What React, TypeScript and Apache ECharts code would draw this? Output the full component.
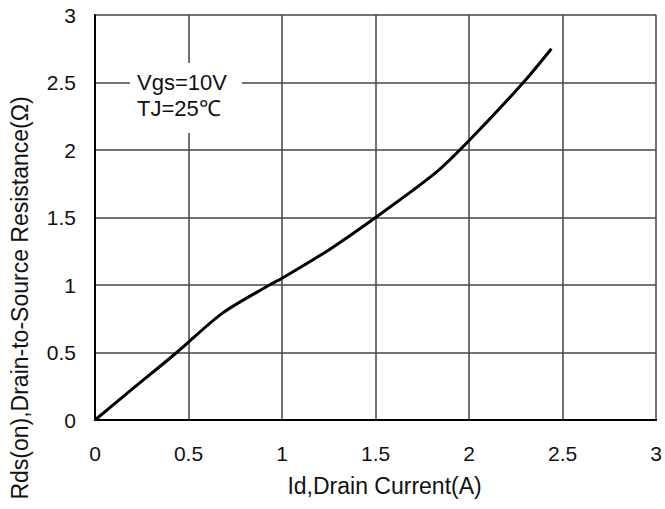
import React, { useEffect, useRef } from "react";
import * as echarts from "echarts";

const currentA: number[] = [0, 0.2, 0.437, 0.68, 0.933, 1.0, 1.25, 1.5, 1.82, 2.0, 2.29, 2.44];
const rdsOhm: number[] = [0, 0.23, 0.5, 0.79, 1.0, 1.05, 1.26, 1.5, 1.83, 2.07, 2.5, 2.75];
const xTitle = "Id,Drain Current(A)";
const yTitle = "Rds(on),Drain-to-Source Resistance(Ω)";
const noteLines = ["Vgs=10V", "TJ=25℃"];

const FONT = "'Liberation Sans', Arial, sans-serif";

export default function App() {
  const ref = useRef<HTMLDivElement>(null);
  useEffect(() => {
    if (!ref.current) return;
    const chart = echarts.init(ref.current, null, { renderer: "svg" });
    const data = currentA.map((x, i) => [x, rdsOhm[i]]);
    const fmt = (v: number) => String(v);
    chart.setOption({
      animation: false,
      backgroundColor: "#fff",
      grid: { left: 95, top: 15, right: 8, bottom: 89, containLabel: false },
      xAxis: {
        type: "value",
        min: 0,
        max: 3,
        interval: 0.5,
        name: xTitle,
        nameLocation: "middle",
        nameGap: 54,
        nameTextStyle: { fontFamily: FONT, fontSize: 23, color: "#111", padding: [0, 0, 0, 18] },
        axisLine: { show: true, onZero: false, lineStyle: { color: "#000", width: 2 } },
        axisTick: { show: false },
        axisLabel: { margin: 23, fontFamily: FONT, fontSize: 21, color: "#111", formatter: fmt },
        splitLine: { show: true, lineStyle: { color: "#444", width: 1.5 } },
      },
      yAxis: {
        type: "value",
        min: 0,
        max: 3,
        interval: 0.5,
        axisLine: { show: true, onZero: false, lineStyle: { color: "#000", width: 2 } },
        axisTick: { show: false },
        axisLabel: { margin: 19, fontFamily: FONT, fontSize: 21, color: "#111", formatter: fmt },
        splitLine: { show: true, lineStyle: { color: "#444", width: 1.5 } },
      },
      graphic: [
        {
          type: "text",
          x: 20,
          y: 298,
          rotation: Math.PI / 2,
          style: {
            text: yTitle,
            fontFamily: FONT,
            fontSize: 23,
            fill: "#111",
            textAlign: "center",
            textVerticalAlign: "middle",
          },
        },
        {
          type: "rect",
          shape: { x: 130, y: 63, width: 112, height: 70 },
          style: { fill: "#fff" },
          z: 10,
        },
        {
          type: "text",
          x: 137,
          y: 82,
          z: 11,
          style: {
            text: noteLines[0],
            fontFamily: FONT,
            fontSize: 22,
            fill: "#111",
            textAlign: "left",
            textVerticalAlign: "middle",
          },
        },
        {
          type: "text",
          x: 137,
          y: 108,
          z: 11,
          style: {
            text: noteLines[1],
            fontFamily: FONT,
            fontSize: 22,
            fill: "#111",
            textAlign: "left",
            textVerticalAlign: "middle",
          },
        },
      ],
      series: [
        {
          type: "line",
          data,
          smooth: 0.3,
          showSymbol: false,
          lineStyle: { color: "#000", width: 3 },
          z: 5,
        },
      ],
    });
    return () => chart.dispose();
  }, []);
  return <div ref={ref} style={{ width: 665, height: 509, position: "absolute", left: 0, top: 0 }} />;
}
